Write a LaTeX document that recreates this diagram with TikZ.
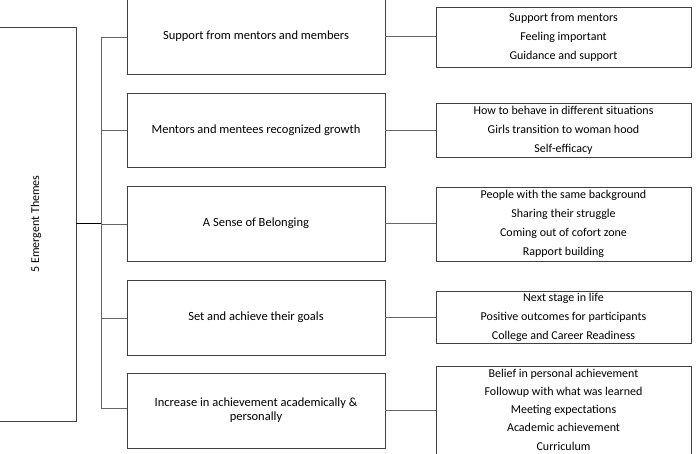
\documentclass[tikz,border=0pt]{standalone}
\usepackage{fontspec}
\setmainfont{Carlito}
\begin{document}
\begin{tikzpicture}[x=1pt,y=-1pt,
  box/.style={draw=black!75,line width=0.9pt,align=center,inner sep=0pt,
    font=\fontsize{12}{19}\selectfont},
  midbox/.style={box,minimum width=258pt,minimum height=74pt,
    font=\fontsize{12.5}{14}\selectfont},
  rbox/.style={box,minimum width=255pt},
  conn/.style={draw=black!60,line width=0.9pt}]
\useasboundingbox (0,0) rectangle (699,454);
\fill[white] (0,0) rectangle (699,454);
% left box
\node[box,minimum width=78pt,minimum height=394pt] (root) at (37,224) {};
\node[font=\fontsize{12}{14}\selectfont,rotate=90] (rootlabel) at (36,224) {5 Emergent Themes};
% middle boxes
\node[midbox,minimum height=76pt] (m1) at (256,36.5) {Support from mentors and members};
\node[midbox] (m2) at (256,130) {Mentors and mentees recognized growth};
\node[midbox,minimum height=75pt] (m3) at (256,223.5) {A Sense of Belonging};
\node[midbox,minimum height=75pt] (m4) at (256,317.5) {Set and achieve their goals};
\node[midbox,minimum height=75pt] (m5) at (256,410.5) {Increase in achievement academically \&\\personally};
% right boxes
\node[rbox,minimum height=60pt] (r1) at (563.5,37) {Support from mentors\\Feeling important\\Guidance and support};
\node[rbox,minimum height=54pt] (r2) at (563.5,130) {How to behave in different situations\\Girls transition to woman hood\\Self-efficacy};
\node[rbox,minimum height=74pt] (r3) at (563.5,224) {People with the same background\\Sharing their struggle\\Coming out of cofort zone\\Rapport building};
\node[rbox,minimum height=52pt] (r4) at (563.5,317) {Next stage in life\\Positive outcomes for participants\\College and Career Readiness};
\node[rbox,minimum height=90pt] (r5) at (563.5,411) {};
\node[align=center,inner sep=0pt,font=\fontsize{12}{18.3}\selectfont] (r5text) at (563.5,409.5)
  {Belief in personal achievement\\Followup with what was learned\\Meeting expectations\\Academic achievement\\Curriculum};
% trunk
\coordinate (hub) at (101,224);
\coordinate (t1) at (101,37);
\coordinate (t2) at (101,130);
\coordinate (t3) at (101,224);
\coordinate (t4) at (101,318);
\coordinate (t5) at (101,408);
\draw[line width=1pt,black] (root.east) -- (hub);
\draw[conn] (t1) -- (t5);
\draw[conn] (t1) -- (t1 -| m1.west);
\draw[conn] (t2) -- (t2 -| m2.west);
\draw[conn] (t3) -- (t3 -| m3.west);
\draw[conn] (t4) -- (t4 -| m4.west);
\draw[conn] (t5) -- (t5 -| m5.west);
\foreach \i in {1,...,5}{
  \draw[conn] (m\i.east) -- (m\i.east -| r\i.west);
}
\end{tikzpicture}
\end{document}
